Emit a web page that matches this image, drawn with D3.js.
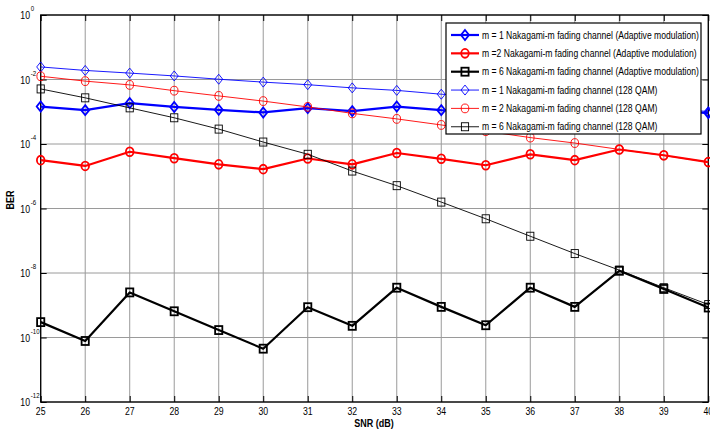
<!DOCTYPE html>
<html><head><meta charset="utf-8">
<script src="https://cdn.jsdelivr.net/npm/d3@7/dist/d3.min.js"></script>
<style>
html,body{margin:0;padding:0;background:#fff;}
svg{display:block;font-family:"Liberation Sans",Arial,sans-serif;}
</style></head>
<body>
<svg id="chart" width="710" height="439"></svg>
<script>
// ---- data ----
const snr = [25,26,27,28,29,30,31,32,33,34,35,36,37,38,39,40];
const xTicks = [25,26,27,28,29,30,31,32,33,34,35,36,37,38,39,40];
const yTickExps = [0,-2,-4,-6,-8,-10,-12];

const m1Adaptive = [1.45e-3,1.12e-3,1.86e-3,1.41e-3,1.15e-3,9.5e-4,1.29e-3,1.05e-3,1.45e-3,1.12e-3,9.3e-4,1.38e-3,1.10e-3,1.48e-3,1.15e-3,9.1e-4];
const m2Adaptive = [3.16e-5,2.09e-5,5.75e-5,3.63e-5,2.34e-5,1.66e-5,3.55e-5,2.34e-5,5.25e-5,3.47e-5,2.19e-5,4.79e-5,3.16e-5,6.76e-5,4.47e-5,2.75e-5];
const m6Adaptive = [3.0e-10,7.8e-11,2.5e-9,6.5e-10,1.7e-10,4.5e-11,8.7e-10,2.3e-10,3.5e-9,8.9e-10,2.4e-10,3.5e-9,8.9e-10,1.17e-8,3.2e-9,8.5e-10];
const m1QAM = [2.45e-2,1.91e-2,1.58e-2,1.29e-2,1.02e-2,8.3e-3,6.9e-3,5.5e-3,4.6e-3,3.5e-3,2.9e-3,2.3e-3,1.9e-3,1.55e-3,1.26e-3,1.02e-3];
const m2QAM = [1.26e-2,8.9e-3,6.8e-3,4.5e-3,3.1e-3,2.14e-3,1.41e-3,8.9e-4,6.0e-4,3.9e-4,2.5e-4,1.58e-4,1.07e-4,6.8e-5,4.4e-5,2.75e-5];
const m6QAM = [5.1e-3,2.7e-3,1.32e-3,6.5e-4,2.9e-4,1.15e-4,4.8e-5,1.45e-5,5.1e-6,1.58e-6,4.8e-7,1.38e-7,4.0e-8,1.23e-8,3.5e-9,1.05e-9];

const seriesNames = [
  "m = 1 Nakagami-m fading channel (Adaptive modulation)",
  "m =2 Nakagami-m fading channel (Adaptive modulation)",
  "m = 6 Nakagami-m fading channel (Adaptive modulation)",
  "m = 1 Nakagami-m fading channel (128 QAM)",
  "m = 2 Nakagami-m fading channel (128 QAM)",
  "m = 6 Nakagami-m fading channel (128 QAM)"
];
const seriesData = [m1Adaptive, m2Adaptive, m6Adaptive, m1QAM, m2QAM, m6QAM];
const seriesColor = ["#0000ff","#ff0000","#000000","#0000ff","#ff0000","#000000"];
const seriesMarker = ["diamond","circle","square","diamond","circle","square"];
const seriesThick = [true,true,true,false,false,false];

// ---- layout ----
const L = 40.7, R = 708.3, T = 15, B = 402;
const SX = 0.87; // horizontal text compression
const svg = d3.select("#chart");
const x = d3.scaleLinear().domain([25,40]).range([L,R]);
const y = d3.scaleLog().domain([1e-12,1]).range([B,T]);

function txt(g, px, py, s, opts) {
  opts = opts || {};
  const gg = g.append("g").attr("transform", `translate(${px},${py}) scale(${opts.sx||SX},1)`);
  const t = gg.append("text").attr("x",0).attr("y",0)
    .attr("font-size", opts.size||10)
    .attr("text-anchor", opts.anchor||"start")
    .attr("font-weight", opts.bold?"bold":"normal")
    .attr("fill","#000").text(s);
  return t;
}

// grid
const grid = svg.append("g");
grid.selectAll("line.gx").data(xTicks).join("line")
  .attr("x1",d=>x(d)).attr("x2",d=>x(d)).attr("y1",T).attr("y2",B)
  .attr("stroke","#9a9a9a").attr("stroke-width",1);
grid.selectAll("line.gy").data(yTickExps).join("line")
  .attr("x1",L).attr("x2",R).attr("y1",d=>y(Math.pow(10,d))).attr("y2",d=>y(Math.pow(10,d)))
  .attr("stroke","#9a9a9a").attr("stroke-width",1);

// axes (inward ticks) using d3 axes
const tl = 6;
svg.append("g").attr("transform",`translate(0,${B})`)
  .call(d3.axisTop(x).tickValues(xTicks).tickSize(tl).tickFormat(""))
  .call(g=>{g.select(".domain").remove();g.selectAll("line").attr("stroke","#000");});
svg.append("g").attr("transform",`translate(0,${T})`)
  .call(d3.axisBottom(x).tickValues(xTicks).tickSize(tl).tickFormat(""))
  .call(g=>{g.select(".domain").remove();g.selectAll("line").attr("stroke","#000");});
const yTv = yTickExps.map(e=>Math.pow(10,e));
svg.append("g").attr("transform",`translate(${L},0)`)
  .call(d3.axisRight(y).tickValues(yTv).tickSize(tl).tickFormat(""))
  .call(g=>{g.select(".domain").remove();g.selectAll("line").attr("stroke","#000");});
svg.append("g").attr("transform",`translate(${R},0)`)
  .call(d3.axisLeft(y).tickValues(yTv).tickSize(tl).tickFormat(""))
  .call(g=>{g.select(".domain").remove();g.selectAll("line").attr("stroke","#000");});

// frame
svg.append("rect").attr("x",L).attr("y",T).attr("width",R-L).attr("height",B-T)
  .attr("fill","none").attr("stroke","#000").attr("stroke-width",1.3);

// tick labels
const lab = svg.append("g");
xTicks.forEach(v=>txt(lab, x(v), 414.5, String(v), {anchor:"middle", size:10}));
yTickExps.forEach(e=>{
  const yy = y(Math.pow(10,e));
  txt(lab, 30, yy+4, "10", {anchor:"end", size:10});
  txt(lab, 30.8, yy-4, String(e), {anchor:"start", size:7});
});
// axis titles
txt(lab, 374, 426.5, "SNR (dB)", {anchor:"middle", size:10, bold:true, sx:0.9});
svg.append("g").attr("transform","translate(14,200) rotate(-90) scale(0.9,1)")
  .append("text").attr("text-anchor","middle").attr("font-size",10).attr("font-weight","bold").text("BER");

// markers
function drawMarker(g, cx, cy, type, color, thick) {
  const sw = thick ? 1.8 : 0.9;
  if (type==="diamond") {
    g.append("path").attr("d",`M${cx},${cy-5}L${cx+4},${cy}L${cx},${cy+5}L${cx-4},${cy}Z`)
      .attr("fill","none").attr("stroke",color).attr("stroke-width",sw);
  } else if (type==="circle") {
    g.append("ellipse").attr("cx",cx).attr("cy",cy).attr("rx",3.8).attr("ry",4.4)
      .attr("fill","none").attr("stroke",color).attr("stroke-width",sw);
  } else {
    g.append("rect").attr("x",cx-3.6).attr("y",cy-4).attr("width",7.2).attr("height",8)
      .attr("fill","none").attr("stroke",color).attr("stroke-width",sw);
  }
}

const line = d3.line().x((d,i)=>x(snr[i])).y(d=>y(d));
seriesData.forEach((data,k)=>{
  const g = svg.append("g");
  g.append("path").attr("d", line(data)).attr("fill","none")
    .attr("stroke", seriesColor[k]).attr("stroke-width", seriesThick[k]?2.2:0.9)
    .attr("stroke-linejoin","round");
  data.forEach((d,i)=>drawMarker(g, x(snr[i]), y(d), seriesMarker[k], seriesColor[k], seriesThick[k]));
});

// legend
const lg = svg.append("g");
const lx0 = 446, ly0 = 23, lw = 255, lh = 111;
lg.append("rect").attr("x",lx0).attr("y",ly0).attr("width",lw).attr("height",lh)
  .attr("fill","#fff").attr("stroke","#000").attr("stroke-width",1.2);
seriesNames.forEach((name,k)=>{
  const cy = 35 + k*18.35;
  lg.append("line").attr("x1",451).attr("x2",479).attr("y1",cy).attr("y2",cy)
    .attr("stroke",seriesColor[k]).attr("stroke-width",seriesThick[k]?2.2:0.9);
  drawMarker(lg, 465, cy, seriesMarker[k], seriesColor[k], seriesThick[k]);
  txt(lg, 482, cy+3.6, name, {size:10, sx:0.86});
});
</script>
</body></html>
